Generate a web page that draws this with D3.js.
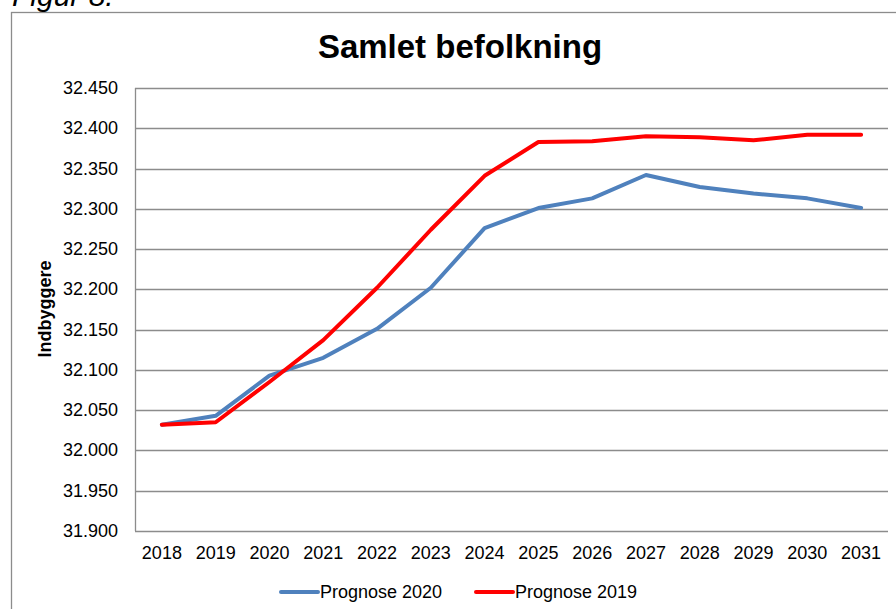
<!DOCTYPE html>
<html>
<head>
<meta charset="utf-8">
<script src="https://cdn.jsdelivr.net/npm/d3@7"></script>
<style>
	body { margin: 0; background: #fff; }
	svg { display: block; font-family: "Liberation Sans", Arial, sans-serif; }
	.grid line { stroke: #8c8c8c; stroke-width: 1.3; }
</style>
</head>
<body>
<svg id="chart" width="896" height="609"></svg>
<script>
var years = ["2018", "2019", "2020", "2021", "2022", "2023", "2024",
	"2025", "2026", "2027", "2028", "2029", "2030", "2031"];
var prognose2020 = [32032, 32043, 32093, 32115, 32151, 32202, 32276,
	32301, 32313, 32342, 32327, 32319, 32313, 32301];
var prognose2019 = [32032, 32035, 32085, 32137, 32202, 32274, 32341,
	32383, 32384, 32390, 32389, 32385, 32392, 32392];
var yTicks = [31900, 31950, 32000, 32050, 32100, 32150, 32200,
	32250, 32300, 32350, 32400, 32450];
var seriesNames = ["Prognose 2020", "Prognose 2019"];
var seriesColors = ["#4f81bd", "#ff0000"];

function drawChart()
{
	var svg = d3.select("#chart");
	var left = 135, right = 888, top = 88, bottom = 531;

	// outer frame of the chart area
	svg.append("rect")
		.attr("x", 11.5).attr("y", 12.5)
		.attr("width", 900).attr("height", 700)
		.attr("fill", "none")
		.attr("stroke", "#8c8c8c")
		.attr("stroke-width", 1.3);

	svg.append("text")
		.attr("x", 12).attr("y", 6)
		.attr("font-size", 30)
		.attr("font-style", "italic")
		.text("Figur 8.");

	svg.append("text")
		.attr("x", 460).attr("y", 58)
		.attr("text-anchor", "middle")
		.attr("font-size", 33)
		.attr("font-weight", "bold")
		.text("Samlet befolkning");

	var x = d3.scaleBand().domain(years).range([left, right]);
	var y = d3.scaleLinear().domain([31900, 32450]).range([bottom, top]);

	svg.append("g")
		.attr("class", "grid")
		.selectAll("line")
		.data(yTicks)
		.enter()
		.append("line")
		.attr("x1", left).attr("x2", right)
		.attr("y1", function(d) { return Math.round(y(d)) + 0.5; })
		.attr("y2", function(d) { return Math.round(y(d)) + 0.5; });

	svg.append("line")
		.attr("x1", left + 0.5).attr("x2", left + 0.5)
		.attr("y1", top).attr("y2", bottom)
		.attr("stroke", "#8c8c8c").attr("stroke-width", 1.3);

	svg.append("g").selectAll("text")
		.data(yTicks)
		.enter()
		.append("text")
		.attr("x", 118)
		.attr("y", function(d) { return y(d) + 6; })
		.attr("text-anchor", "end")
		.attr("font-size", 18)
		.text(function(d) { return d3.format(",")(d).replace(",", "."); });

	svg.append("g").selectAll("text")
		.data(years)
		.enter()
		.append("text")
		.attr("x", function(d) { return x(d) + x.bandwidth() / 2; })
		.attr("y", bottom + 28)
		.attr("text-anchor", "middle")
		.attr("font-size", 18)
		.text(function(d) { return d; });

	svg.append("text")
		.attr("transform", "translate(51,309) rotate(-90)")
		.attr("text-anchor", "middle")
		.attr("font-size", 18)
		.attr("font-weight", "bold")
		.text("Indbyggere");

	var line = d3.line()
		.x(function(d, i) { return x(years[i]) + x.bandwidth() / 2; })
		.y(function(d) { return y(d); });

	[prognose2020, prognose2019].forEach(function(s, i)
	{
		svg.append("path")
			.datum(s)
			.attr("d", line)
			.attr("fill", "none")
			.attr("stroke", seriesColors[i])
			.attr("stroke-width", 4)
			.attr("stroke-linejoin", "round")
			.attr("stroke-linecap", "round");
	});

	// legend
	var legendX = [281, 476];
	seriesNames.forEach(function(name, i)
	{
		svg.append("line")
			.attr("x1", legendX[i]).attr("x2", legendX[i] + 37)
			.attr("y1", 592).attr("y2", 592)
			.attr("stroke", seriesColors[i])
			.attr("stroke-width", 4)
			.attr("stroke-linecap", "round");
		svg.append("text")
			.attr("x", legendX[i] + 39)
			.attr("y", 598)
			.attr("font-size", 18)
			.text(name);
	});
}

drawChart();
</script>
</body>
</html>
